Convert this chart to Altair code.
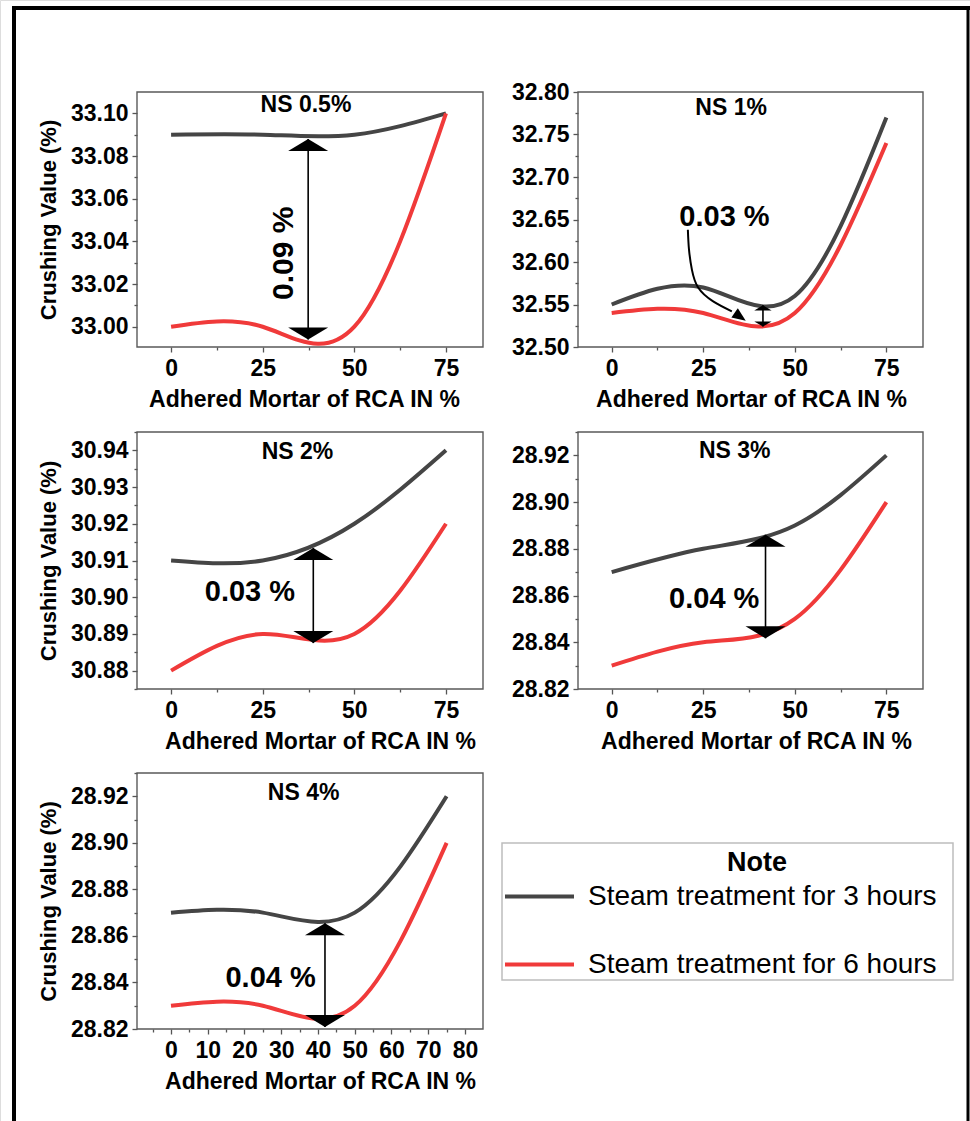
import altair as alt
import pandas as pd

W, H = 970, 1121
FONT = "Liberation Sans"

# Adhered mortar content of recycled coarse aggregate (%)
mortar = [0, 25, 50, 75]

series_names = ["Steam treatment for 3 hours", "Steam treatment for 6 hours"]
series_colors = ["#454545", "#f03a3a"]

# Crushing value (%) for each nano-silica dosage
ns05_3h = [33.09, 33.09, 33.09, 33.10]
ns05_6h = [33.00, 33.00, 33.00, 33.10]
ns1_3h = [32.55, 32.57, 32.56, 32.77]
ns1_6h = [32.54, 32.54, 32.54, 32.74]
ns2_3h = [30.91, 30.91, 30.92, 30.94]
ns2_6h = [30.88, 30.89, 30.89, 30.92]
ns3_3h = [28.87, 28.88, 28.89, 28.92]
ns3_6h = [28.83, 28.84, 28.85, 28.90]
ns4_3h = [28.87, 28.87, 28.87, 28.92]
ns4_6h = [28.83, 28.83, 28.83, 28.90]

panel_titles = ["NS 0.5%", "NS 1%", "NS 2%", "NS 3%", "NS 4%"]
title_x = [36.8, 32.6, 34.5, 33.6, 36.1]
title_y = [33.1039, 32.781, 30.9395, 28.922, 28.9214]

# Gap between the two treatments: label text, label anchor, double arrow
gap_labels = ["0.09 %", "0.03 %", "0.03 %", "0.04 %", "0.04 %"]
label_x = [30.8, 30.8, 21.5, 28.0, 27.1]
label_y = [33.0344, 32.653, 30.9015, 28.8585, 28.842]
gap_x = [37.4, 41.3, 38.8, 42.0, 41.9]
gap_top = [33.088, 32.549, 30.9134, 28.886, 28.8654]
gap_bottom = [32.994, 32.524, 30.8875, 28.8417, 28.8209]
head_size = [1600, 300, 1600, 1600, 1600]

# Curved pointer from the label to the gap in the NS 1% panel
curve_x = [20.8, 21.1, 21.9, 23.6, 27.6, 32.8]
curve_y = [32.638, 32.615, 32.591, 32.570, 32.554, 32.542]
curve_tip_x = [36.6]
curve_tip_y = [32.531]

# Axis tick values (major + minor)
x_ticks_25 = [0, 12.5, 25, 37.5, 50, 62.5, 75]
x_ticks_10 = [-5, 0, 5, 10, 15, 20, 25, 30, 35, 40, 45, 50, 55, 60, 65, 70, 75, 80]
y_ticks_p1 = [32.99, 33.00, 33.01, 33.02, 33.03, 33.04, 33.05, 33.06, 33.07, 33.08, 33.09, 33.10]
y_ticks_p2 = [32.50, 32.525, 32.55, 32.575, 32.60, 32.625, 32.65, 32.675, 32.70, 32.725, 32.75, 32.775, 32.80]
y_ticks_p3 = [30.875, 30.88, 30.885, 30.89, 30.895, 30.90, 30.905, 30.91, 30.915, 30.92, 30.925, 30.93, 30.935, 30.94, 30.945]
y_ticks_p45 = [28.82, 28.83, 28.84, 28.85, 28.86, 28.87, 28.88, 28.89, 28.90, 28.91, 28.92, 28.93]

# Panel layout: plot-area pixel spans and data domains
panels = [
    dict(black=ns05_3h, red=ns05_6h, xdom=[-9.3, 85.1], xr=[137, 483], ydom=[32.9905, 33.110], yr=[347, 92],
         xt=x_ticks_25, xmaj=25, yt=y_ticks_p1, ymaj=50, ytitle=True, xtitle_x=304),
    dict(black=ns1_3h, red=ns1_6h, xdom=[-9.2, 85.0], xr=[578, 923], ydom=[32.50, 32.80], yr=[347, 92],
         xt=x_ticks_25, xmaj=25, yt=y_ticks_p2, ymaj=20, ytitle=False, xtitle_x=751),
    dict(black=ns2_3h, red=ns2_6h, xdom=[-9.3, 85.1], xr=[137, 483], ydom=[30.875, 30.945], yr=[689, 432],
         xt=x_ticks_25, xmaj=25, yt=y_ticks_p3, ymaj=100, ytitle=True, xtitle_x=320),
    dict(black=ns3_3h, red=ns3_6h, xdom=[-9.2, 85.0], xr=[578, 923], ydom=[28.82, 28.93], yr=[689, 432],
         xt=x_ticks_25, xmaj=25, yt=y_ticks_p45, ymaj=50, ytitle=False, xtitle_x=756),
    dict(black=ns4_3h, red=ns4_6h, xdom=[-9.25, 84.9], xr=[137, 483], ydom=[28.82, 28.93], yr=[1029, 773],
         xt=x_ticks_10, xmaj=10, yt=y_ticks_p45, ymaj=50, ytitle=True, xtitle_x=320),
]

AXIS_GRAY = "#555555"
color_scale = alt.Scale(domain=series_names, range=series_colors)
legend = alt.Legend(
    orient="none", legendX=503, legendY=860, title=None,
    labelFont=FONT, labelFontSize=28, labelColor="black", labelOffset=12, labelLimit=500,
    symbolType="stroke", symbolSize=4761, symbolStrokeWidth=4,
    rowPadding=17, padding=0,
)


def major_test(mult):
    return f"abs(datum.value*{mult} - round(datum.value*{mult})) < 0.01"


def build_panel(i, p):
    xs = alt.Scale(domain=p["xdom"], range=p["xr"], nice=False, zero=False)
    ys = alt.Scale(domain=p["ydom"], range=p["yr"], nice=False, zero=False)
    xtest = f"abs(datum.value % {p['xmaj']}) < 0.001"
    ytest = major_test(p["ymaj"])
    xaxis = alt.Axis(
        orient="bottom", offset=p["yr"][0] - H, values=p["xt"], grid=False, domain=False,
        labelExpr=f"{xtest} ? format(datum.value, 'd') : ''",
        labelOverlap=False, labelFlush=False,
        labelFont=FONT, labelFontSize=23, labelFontWeight="bold", labelColor="black", labelPadding=5,
        tickColor=AXIS_GRAY, tickWidth=1.3,
        tickSize={"condition": {"test": xtest, "value": 5}, "value": 3},
        title="Adhered Mortar of RCA IN %", titleFont=FONT, titleFontSize=23, titleFontWeight="bold",
        titleColor="black", titlePadding=8, titleX=p["xtitle_x"],
    )
    yaxis_kw = dict(
        orient="left", offset=-p["xr"][0], values=p["yt"], grid=False, domain=False,
        labelExpr=f"{ytest} ? format(datum.value, '.2f') : ''",
        labelOverlap=False, labelFlush=False,
        labelFont=FONT, labelFontSize=23, labelFontWeight="bold", labelColor="black", labelPadding=4,
        tickColor=AXIS_GRAY, tickWidth=1.3,
        tickSize={"condition": {"test": ytest, "value": 5}, "value": 3},
    )
    if p["ytitle"]:
        yaxis = alt.Axis(title="Crushing Value (%)", titleFont=FONT, titleFontSize=22,
                         titleFontWeight="bold", titleColor="black", titlePadding=10, **yaxis_kw)
    else:
        yaxis = alt.Axis(title=None, **yaxis_kw)

    def X(field):
        return alt.X(field, type="quantitative", scale=xs, axis=xaxis)

    def Y(field):
        return alt.Y(field, type="quantitative", scale=ys, axis=yaxis)

    frame_df = pd.DataFrame({"x": [p["xdom"][0]], "x2": [p["xdom"][1]],
                             "y": [p["ydom"][0]], "y2": [p["ydom"][1]]})
    frame = alt.Chart(frame_df).mark_rect(fill="white", fillOpacity=0, stroke="#5a5a5a", strokeWidth=1.4).encode(
        x=X("x"), x2="x2:Q", y=Y("y"), y2="y2:Q")

    line_df = pd.DataFrame({
        "x": mortar + mortar,
        "y": p["black"] + p["red"],
        "series": [series_names[0]] * 4 + [series_names[1]] * 4,
    })
    lines = alt.Chart(line_df).mark_line(interpolate="natural", strokeWidth=4).encode(
        x=X("x"), y=Y("y"),
        color=alt.Color("series:N", scale=color_scale, legend=legend, sort=series_names),
    )

    arrow_df = pd.DataFrame({"x": [gap_x[i]], "y": [gap_top[i]], "y2": [gap_bottom[i]]})
    shaft = alt.Chart(arrow_df).mark_rule(color="black", strokeWidth=1.6).encode(
        x=X("x"), y=Y("y"), y2="y2:Q")
    head_up = alt.Chart(arrow_df).mark_point(
        shape="M0,0L1,0.6L-1,0.6Z", filled=True, color="black", opacity=1, size=head_size[i]
    ).encode(x=X("x"), y=Y("y"))
    head_down = alt.Chart(pd.DataFrame({"x": [gap_x[i]], "y": [gap_bottom[i]]})).mark_point(
        shape="M0,0L1,-0.6L-1,-0.6Z", filled=True, color="black", opacity=1, size=head_size[i]
    ).encode(x=X("x"), y=Y("y"))

    label = alt.Chart(pd.DataFrame({"x": [label_x[i]], "y": [label_y[i]], "t": [gap_labels[i]]})).mark_text(
        font=FONT, fontSize=30 if i == 0 else 29, fontWeight="bold", color="black",
        align="center", baseline="middle", angle=270 if i == 0 else 0,
    ).encode(x=X("x"), y=Y("y"), text="t:N")

    title = alt.Chart(pd.DataFrame({"x": [title_x[i]], "y": [title_y[i]], "t": [panel_titles[i]]})).mark_text(
        font=FONT, fontSize=23, fontWeight="bold", color="black", align="center", baseline="middle",
    ).encode(x=X("x"), y=Y("y"), text="t:N")

    layers = [frame, lines, shaft, head_up, head_down, label, title]

    if i == 1:
        curve_df = pd.DataFrame({"x": curve_x, "y": curve_y, "k": list(range(len(curve_x)))})
        curve = alt.Chart(curve_df).mark_line(interpolate="natural", color="black", strokeWidth=2).encode(
            x=X("x"), y=Y("y"), order="k:Q")
        tip = alt.Chart(pd.DataFrame({"x": curve_tip_x, "y": curve_tip_y})).mark_point(
            shape="M0,0L0.7,1.7L-0.7,1.7Z", filled=True, color="black", opacity=1, size=256, angle=125,
        ).encode(x=X("x"), y=Y("y"))
        layers += [curve, tip]

    return alt.layer(*layers)


panel_charts = [build_panel(i, p) for i, p in enumerate(panels)]

one = pd.DataFrame({"k": [0]})

# Outer figure border (top, left, right)
border_top = alt.Chart(one).mark_rule(color="black", strokeWidth=4).encode(
    x=alt.value(12), x2=alt.value(970), y=alt.value(8))
border_left = alt.Chart(one).mark_rule(color="black", strokeWidth=4).encode(
    x=alt.value(14), y=alt.value(6), y2=alt.value(H))
border_right = alt.Chart(one).mark_rule(color="black", strokeWidth=3).encode(
    x=alt.value(968), y=alt.value(6), y2=alt.value(H))

# Legend frame and heading
note_box = alt.Chart(one).mark_rect(fill="white", fillOpacity=0, stroke="#bdbdbd", strokeWidth=1.5).encode(
    x=alt.value(502), x2=alt.value(953), y=alt.value(843), y2=alt.value(980))
note_title = alt.Chart(one).mark_text(
    text="Note", font=FONT, fontSize=27, fontWeight="bold", color="black", align="center", baseline="middle"
).encode(x=alt.value(757), y=alt.value(863))

chart = alt.layer(
    border_top, border_left, border_right, *panel_charts, note_box, note_title
).resolve_scale(
    x="independent", y="independent"
).properties(
    width=W, height=H, padding=0, autosize=alt.AutoSizeParams(type="none"),
).configure_view(stroke=None).configure(font=FONT, background="white")

chart.save("out.html", embed_options={"renderer": "svg", "actions": False})
